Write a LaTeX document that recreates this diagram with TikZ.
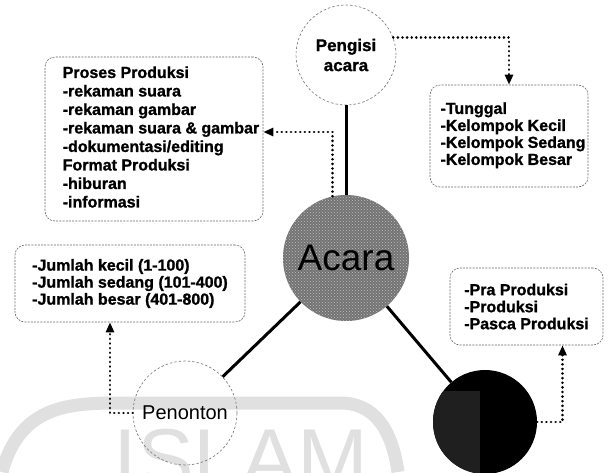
\documentclass[tikz,border=0pt]{standalone}
\usepackage{fontspec}
\setmainfont{Liberation Sans}[BoldFeatures={FakeBold=1.2}]
\usetikzlibrary{arrows.meta,patterns}

\begin{document}
\begin{tikzpicture}[x=1pt,y=-1pt,
  circ_node/.style={circle,draw=black!55,dash pattern=on 2.5pt off 2pt,line width=0.6pt,inner sep=0pt},
  box_node/.style={draw=black!60,dash pattern=on 2pt off 1.2pt,line width=0.6pt,rounded corners=10pt,align=left,inner sep=0pt,font=\fontsize{16}{17}\selectfont\bfseries},
  dot_arrow/.style={line width=2.8pt,dash pattern=on 0.01pt off 4.6pt,line cap=round,-{Triangle[length=10pt,width=8pt]}},
  solid_line/.style={line width=3pt}]
\useasboundingbox (0,0) rectangle (609,472);

% watermark
\draw[black!12, line width=13pt] (2,472) .. controls (20,405) and (70,403) .. (120,403) -- (340,403) .. controls (375,403) and (392,430) .. (398,472);
\node[text=black!12, font=\fontsize{85}{85}\selectfont, anchor=base] (mark) at (241,488) {ISLAM};

% circles
\node[circ_node, minimum size=100pt, align=center, font=\fontsize{17}{20}\selectfont\bfseries] (pengisi) at (346,55) {Pengisi\\acara};
\node[circle, minimum size=126pt, inner sep=0pt, preaction={fill=black!55}, pattern=crosshatch dots, pattern color=black!25, font=\fontsize{37}{37}\selectfont] (acara) at (346,258) {Acara};
\node[circ_node, minimum size=104pt, font=\fontsize{20}{20}\selectfont] (penonton) at (185,413) {Penonton};
\node[circle, minimum size=104pt, inner sep=0pt, fill=black] (hitam) at (485,422) {};
\begin{scope}
  \clip (hitam.center) circle[radius=52pt];
  \fill[black!88] (432,391) rectangle (480,476);
\end{scope}

% boxes
\node[box_node, minimum width=218pt, minimum height=164pt, font=\fontsize{16}{18.5}\selectfont\bfseries] (proses) at (154,139)
  {\hspace*{14pt}\begin{tabular}{@{}l@{}}Proses Produksi\\-rekaman suara\\-rekaman gambar\\-rekaman suara \& gambar\\-dokumentasi/editing\\Format Produksi\\-hiburan\\-informasi\end{tabular}};
\node[box_node, minimum width=158pt, minimum height=102pt] (kelompok) at (509,136)
  {\hspace*{8pt}\begin{tabular}{@{}l@{}}-Tunggal\\-Kelompok Kecil\\-Kelompok Sedang\\-Kelompok Besar\end{tabular}};
\node[box_node, minimum width=230pt, minimum height=77pt] (jumlah) at (130,283.5)
  {-Jumlah kecil (1-100)\\-Jumlah sedang (101-400)\\-Jumlah besar (401-800)};
\node[box_node, minimum width=153pt, minimum height=77pt] (pra) at (526.5,306.5)
  {-Pra Produksi\\-Produksi\\-Pasca Produksi};

\draw[solid_line] (pengisi) -- (acara);
\draw[solid_line] (acara) -- (penonton);
\draw[solid_line] (acara) -- (hitam);

\draw[dot_arrow] (pengisi.20) -| (kelompok.north);
\draw[dot_arrow] (acara.102) |- ([yshift=7pt]proses.east);
\draw[dot_arrow] (penonton.west) -| ([xshift=-20pt]jumlah.south);
\draw[dot_arrow] (hitam.east) -| ([xshift=36pt]pra.south);

\end{tikzpicture}
\end{document}
